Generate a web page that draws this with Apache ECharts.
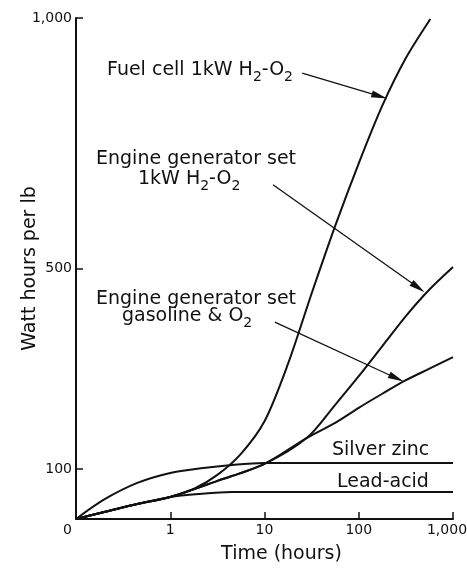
<!DOCTYPE html>
<html>
<head>
<meta charset="utf-8">
<script src="https://cdn.jsdelivr.net/npm/echarts@6/dist/echarts.min.js"></script>
<style>
html, body { margin: 0; padding: 0; background: #fff; }
#chart { width: 467px; height: 568px; }
</style>
</head>
<body>
<div id="chart"></div>
<script>
// x is in decade steps along the time axis: 0 -> 0 h, 1 -> 1 h, 2 -> 10 h, 3 -> 100 h, 4 -> 1,000 h
var timeLabels = ['0', '1', '10', '100', '1,000'];
var whTicks = [100, 500, 1000];

var fuelCell = [[0, 0], [0.3, 14], [0.65, 30], [1.0, 44], [1.25, 60], [1.5, 88], [1.75, 130], [2.0, 195],
  [2.25, 310], [2.5, 450], [2.75, 585], [3.0, 710], [3.25, 825], [3.5, 920], [3.76, 998]];
var engineH2 = [[0, 0], [0.3, 14], [0.65, 30], [1.0, 44], [1.5, 76], [2.0, 110], [2.45, 162], [2.75, 228],
  [3.0, 285], [3.25, 345], [3.5, 405], [3.75, 458], [4.0, 503]];
var engineGas = [[0, 0], [0.3, 14], [0.65, 30], [1.0, 44], [1.5, 76], [2.0, 110], [2.45, 162], [2.75, 192],
  [3.0, 222], [3.25, 250], [3.5, 277], [3.75, 300], [4.0, 323]];
var silverZinc = [[0, 0], [0.3, 39], [0.65, 72], [1.0, 92], [1.35, 102], [1.6, 107], [2.0, 112], [2.5, 112], [4.0, 112]];
var leadAcid = [[0, 0], [0.3, 14], [0.65, 30], [1.0, 44], [1.3, 50], [1.65, 54], [4.0, 54]];

// label arrows: [from, to] in axis units
var arrowFuel = [[2.4, 890], [3.22, 844]];
var arrowH2 = [[2.09, 667], [3.63, 462]];
var arrowGas = [[2.11, 393], [3.4, 281]];

var INK = '#111';
var FONT = 'DejaVu Sans';

var rich = {
  m: { fontFamily: FONT, fontSize: 19, lineHeight: 20, verticalAlign: 'top', color: INK },
  s: { fontFamily: FONT, fontSize: 14, lineHeight: 14, padding: [9, 0, 0, 0], verticalAlign: 'top', color: INK }
};

function label(x, y, text) {
  return {
    type: 'text', x: x, y: y, silent: true,
    style: { text: text, rich: rich, fill: INK, font: '19px ' + FONT, align: 'left', verticalAlign: 'top' }
  };
}

function arrow(pts) {
  return {
    silent: true,
    symbol: ['none', 'triangle'],
    symbolSize: [7, 16],
    label: { show: false },
    lineStyle: { color: INK, width: 1.3, type: 'solid' },
    emphasis: { disabled: true },
    data: [[{ coord: pts[0] }, { coord: pts[1] }]]
  };
}

function curve(name, data, marks) {
  var s = {
    name: name,
    type: 'line',
    data: data,
    smooth: 0.3,
    showSymbol: false,
    silent: true,
    lineStyle: { color: INK, width: 2 }
  };
  if (marks) s.markLine = marks;
  return s;
}

var myChart = echarts.init(document.getElementById('chart'));
var option = {
  animation: false,
  backgroundColor: '#fff',
  grid: { left: 76, right: 14, top: 18, bottom: 49, outerBoundsMode: 'none' },
  xAxis: {
    type: 'value',
    min: 0,
    max: 4,
    interval: 1,
    name: 'Time (hours)',
    nameLocation: 'middle',
    nameGap: 26,
    nameMoveOverlap: false,
    nameTextStyle: { fontFamily: FONT, fontSize: 19, color: INK, padding: [0, 0, 0, 34] },
    axisLine: { lineStyle: { color: INK, width: 2 } },
    axisTick: { inside: true, length: 7, lineStyle: { color: INK, width: 1.5 }, customValues: [1, 2, 3, 4] },
    axisLabel: {
      margin: 4,
      customValues: [0, 1, 2, 3, 4],
      fontFamily: FONT, fontSize: 14, color: INK,
      formatter: function (v) {
        var t = timeLabels[Math.round(v)];
        if (v === 0) return '{z|' + t + '}';
        if (v === 4) return '{e|' + t + '}';
        return t;
      },
      rich: {
        z: { fontFamily: FONT, fontSize: 14, color: INK, padding: [0, 17, 0, 0] },
        e: { fontFamily: FONT, fontSize: 14, color: INK, padding: [0, 12, 0, 0] }
      }
    },
    splitLine: { show: false }
  },
  yAxis: {
    type: 'value',
    min: 0,
    max: 1000,
    name: 'Watt hours per lb',
    nameLocation: 'middle',
    nameGap: 36,
    nameMoveOverlap: false,
    nameTextStyle: { fontFamily: FONT, fontSize: 19, color: INK },
    axisLine: { show: true, lineStyle: { color: INK, width: 2 } },
    axisTick: { show: true, inside: true, length: 7, lineStyle: { color: INK, width: 1.5 }, customValues: whTicks },
    axisLabel: {
      margin: 4,
      customValues: whTicks,
      fontFamily: FONT, fontSize: 14, color: INK,
      formatter: function (v) { return v === 1000 ? '1,000' : String(v); }
    },
    splitLine: { show: false }
  },
  series: [
    curve('Lead-acid', leadAcid),
    curve('Silver zinc', silverZinc),
    curve('Engine generator set gasoline & O2', engineGas, arrow(arrowGas)),
    curve('Engine generator set 1kW H2-O2', engineH2, arrow(arrowH2)),
    curve('Fuel cell 1kW H2-O2', fuelCell, arrow(arrowFuel))
  ],
  graphic: [
    label(107, 61, '{m|Fuel cell 1kW H}{s|2}{m|-O}{s|2}'),
    label(96, 150, '{m|Engine generator set}'),
    label(138, 170, '{m|1kW H}{s|2}{m|-O}{s|2}'),
    label(96, 290, '{m|Engine generator set}'),
    label(122, 307, '{m|gasoline & O}{s|2}'),
    label(332, 441, '{m|Silver zinc}'),
    label(337, 473, '{m|Lead-acid}')
  ]
};
myChart.setOption(option);
</script>
</body>
</html>
